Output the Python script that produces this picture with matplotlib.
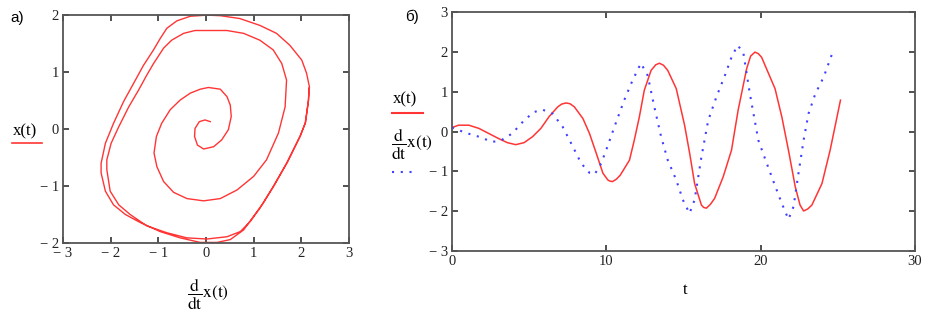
import numpy as np
import matplotlib
matplotlib.use("Agg")
import matplotlib.pyplot as plt
from matplotlib.lines import Line2D

plt.rcParams['font.family'] = ['Liberation Serif', 'DejaVu Serif']
plt.rcParams['mathtext.fontset'] = 'stix'

# a) phase portrait: horizontal = dx/dt, vertical = x
phase_dx = [0.09, -0.02, -0.14, -0.23, -0.24, -0.18, -0.05, 0.16, 0.33, 0.47, 0.53, 0.51, 0.44, 0.30, 0.05,
            -0.12, -0.33, -0.54, -0.75, -0.93, -1.04, -1.09, -1.03, -0.89, -0.68, -0.40, -0.05, 0.30, 0.65,
            1.00, 1.27, 1.52, 1.66, 1.69, 1.59, 1.41, 1.13, 0.79, 0.44, 0.09, -0.23, -0.47, -0.72, -0.89,
            -1.10, -1.24, -1.41, -1.62, -1.83, -1.99, -2.08, -2.08, -2.01, -1.83, -1.59, -1.24, -0.82, -0.40,
            0.02, 0.44, 0.72, 0.93, 1.13, 1.41, 1.69, 1.97, 2.08, 2.15, 2.17, 2.11, 2.01, 1.76, 1.48, 1.13,
            0.71, 0.30, 0.02, -0.33, -0.61, -0.82, -0.96, -1.10, -1.31, -1.52, -1.73, -1.94, -2.11, -2.20,
            -2.20, -2.11, -1.94, -1.69, -1.38, -0.96, -0.54, -0.12, 0.23, 0.51, 0.79, 1.00, 1.20, 1.43, 1.71,
            1.98, 2.09, 2.15, 2.16]
phase_x = [0.13, 0.16, 0.13, 0.01, -0.13, -0.28, -0.35, -0.31, -0.19, -0.01, 0.22, 0.42, 0.57, 0.70, 0.73,
           0.70, 0.63, 0.51, 0.34, 0.10, -0.13, -0.42, -0.66, -0.92, -1.11, -1.22, -1.26, -1.22, -1.07,
           -0.83, -0.54, -0.07, 0.39, 0.86, 1.15, 1.39, 1.56, 1.68, 1.73, 1.73, 1.73, 1.68, 1.56, 1.42,
           1.15, 0.95, 0.69, 0.39, 0.04, -0.25, -0.54, -0.71, -1.09, -1.33, -1.50, -1.70, -1.82, -1.91,
           -1.93, -1.89, -1.80, -1.62, -1.39, -1.01, -0.60, -0.13, 0.10, 0.51, 0.74, 0.98, 1.21, 1.47, 1.68, 1.82,
           1.94, 1.99, 2.00, 1.98, 1.90, 1.77, 1.59, 1.39, 1.12, 0.80, 0.48, 0.10, -0.25, -0.60,
           -0.77, -1.09, -1.33, -1.50, -1.64, -1.80, -1.91, -1.99, -1.99, -1.94, -1.77, -1.53, -1.30, -0.99, -0.58,
           -0.12, 0.12, 0.50, 0.72]

# б) time series
t_x = [0, 0.43, 1.09, 1.74, 2.39, 3.04, 3.59, 4.13, 4.67, 5.22, 5.76, 6.3, 6.85, 7.1, 7.39, 7.65, 7.93,
       8.48, 8.91, 9.35, 9.78, 10.1, 10.25, 10.4, 10.65, 10.9, 11.5, 11.81, 12.14, 12.46, 12.9, 13.2,
       13.44, 13.7, 13.98, 14.53, 15.07, 15.4, 15.72, 16.16, 16.3, 16.48, 16.75, 17.02, 17.57, 18.11,
       18.54, 19.09, 19.35, 19.63, 19.85, 20.06, 20.28, 20.93, 21.37, 21.8, 22.24, 22.55, 22.78, 23.05,
       23.32, 23.97, 24.5, 25.17]
x_vals = [0.10, 0.16, 0.16, 0.08, -0.05, -0.18, -0.28, -0.33, -0.28, -0.13, 0.08, 0.38, 0.62, 0.69, 0.72,
          0.70, 0.62, 0.33, -0.05, -0.55, -1.05, -1.22, -1.25, -1.26, -1.20, -1.10, -0.72, -0.22, 0.37,
          1.04, 1.54, 1.68, 1.72, 1.67, 1.54, 1.08, 0.16, -0.55, -1.31, -1.85, -1.91, -1.93, -1.83, -1.68,
          -1.14, -0.47, 0.54, 1.58, 1.90, 2.00, 1.96, 1.87, 1.67, 1.08, 0.37, -0.47, -1.39, -1.85, -2.00,
          -1.95, -1.85, -1.31, -0.47, 0.79]

t_dx = [0, 0.87, 1.74, 2.6, 3.15, 3.9, 4.67, 5.3, 5.87, 6.52, 7.17, 7.83, 8.37, 8.91, 9.24, 9.67, 10.07,
        10.6, 11.16, 11.7, 12.24, 12.68, 13.11, 13.55, 13.98, 14.53, 14.96, 15.39, 15.72, 16.16, 16.6,
        17.13, 17.68, 18.11, 18.5, 18.87, 19.3, 19.85, 20.28, 20.83, 21.37, 21.8, 22.13, 22.45, 22.78,
        23.1, 23.54, 24.08, 24.63]
dx_vals = [0.10, -0.03, -0.13, -0.26, -0.23, -0.05, 0.28, 0.49, 0.55, 0.45, 0.12, -0.38, -0.80, -1.04,
           -1.08, -0.80, -0.38, 0.20, 0.79, 1.29, 1.72, 1.41, 0.62, -0.13, -0.72, -1.22, -1.72, -2.06,
           -1.72, -0.64, 0.28, 0.87, 1.41, 1.87, 2.17, 2.00, 0.95, -0.22, -0.68, -1.26, -1.81, -2.21,
           -1.89, -1.05, -0.22, 0.45, 0.95, 1.37, 1.96]

RED = '#ff3535'
BLUE = '#4040ff'
FRAME = '#555555'


def fmt(v):
    v = int(round(v))
    return ('\u2212 %d' % -v) if v < 0 else '%d' % v


def style(ax, xt, yt):
    for s in ax.spines.values():
        s.set_color(FRAME)
        s.set_linewidth(1.3)
    ax.set_xticks(xt)
    ax.set_yticks(yt)
    ax.set_xticklabels([fmt(v) for v in xt])
    ax.set_yticklabels([fmt(v) for v in yt])
    ax.tick_params(direction='in', length=4, width=1.1, color='#222222', top=True, right=True,
                   labelsize=10.5, pad=3, labelcolor='#222222')


fig = plt.figure(figsize=(9.44, 3.26), dpi=100)

# panel a
ax1 = fig.add_axes([0.0667, 0.2546, 0.303, 0.699])
ax1.plot(phase_dx, phase_x, color=RED, lw=1.0)
ax1.set_xlim(-3, 3)
ax1.set_ylim(-2, 2)
style(ax1, [-3, -2, -1, 0, 1, 2, 3], [-2, -1, 0, 1, 2])

# panel b
ax2 = fig.add_axes([0.4788, 0.231, 0.4905, 0.731])
ax2.plot(t_x, x_vals, color=RED, lw=1.1)
ax2.plot(t_dx, dx_vals, color=BLUE, lw=1.5, linestyle=(0, (1.0, 3.2)))
ax2.set_xlim(0, 30)
ax2.set_ylim(-3, 3)
style(ax2, [0, 10, 20, 30], [-3, -2, -1, 0, 1, 2, 3])

# panel captions
fig.text(17 / 944, 1 - 18 / 326, 'а)', family='Liberation Sans', fontsize=11, ha='center', va='center')
fig.text(412 / 944, 1 - 17 / 326, 'б)', family='Liberation Sans', fontsize=11, ha='center', va='center')

# legend-like labels
fig.text(25 / 944, 1 - 131 / 326, 'x(t)', fontsize=12, ha='center', va='center')
fig.add_artist(Line2D([12 / 944, 42 / 944], [1 - 143 / 326] * 2, color=RED, lw=1.2,
                      transform=fig.transFigure))

fig.text(405 / 944, 1 - 99 / 326, 'x(t)', fontsize=12, ha='center', va='center')
fig.add_artist(Line2D([392 / 944, 423 / 944], [1 - 113 / 326] * 2, color=RED, lw=1.5,
                      transform=fig.transFigure))
fig.text(391 / 944, 1 - 144 / 326, r'$\dfrac{\mathrm{d}}{\mathrm{dt}}\mathrm{x(t)}$', fontsize=12.5,
         ha='left', va='center')
fig.add_artist(Line2D([392 / 944, 418 / 944], [1 - 172 / 326] * 2, color=BLUE, lw=1.5,
                      linestyle=(0, (1.0, 3.2)), transform=fig.transFigure))

# axis titles
fig.text(187 / 944, 1 - 294 / 326, r'$\dfrac{\mathrm{d}}{\mathrm{dt}}\mathrm{x(t)}$', fontsize=12.5,
         ha='left', va='center')
fig.text(685 / 944, 1 - 290 / 326, 't', fontsize=12, ha='center', va='center')

fig.savefig('out.png', dpi=100)
